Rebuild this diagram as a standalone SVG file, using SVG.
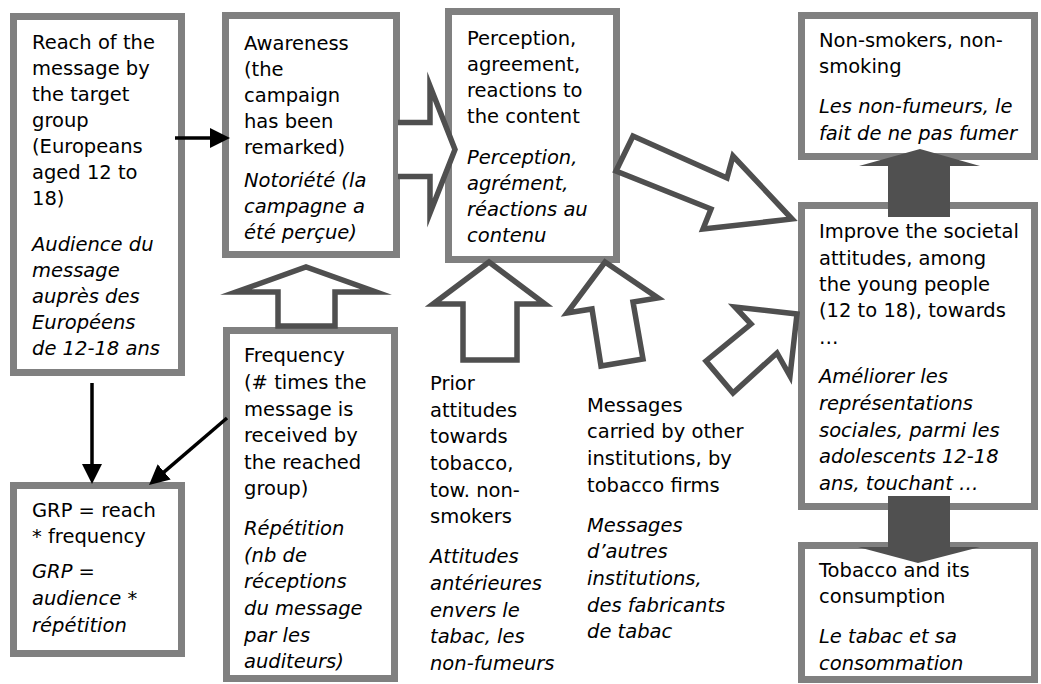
<svg xmlns="http://www.w3.org/2000/svg" width="1041" height="684" viewBox="0 0 1041 684">
<defs>
<style>
.box{fill:#fff;stroke:#808080;stroke-width:7}
.t{font-family:"DejaVu Sans",Verdana,sans-serif;font-size:19.5px;fill:#000}
.i{font-style:italic}
.blk{fill:#fff;stroke:#4f4f4f;stroke-width:5.5;stroke-linejoin:miter;stroke-miterlimit:10}
.sol{fill:#505050}
.con{stroke:#000;stroke-width:3.5;fill:none;marker-end:url(#ah)}
</style>
<marker id="ah" markerUnits="userSpaceOnUse" markerWidth="20" markerHeight="20" viewBox="0 0 20 20" refX="5" refY="10" orient="auto"><path d="M0,0 L20,10 L0,20 Z" fill="#000"/></marker>
</defs>
<rect width="1041" height="684" fill="#fff"/>

<g id="reach">
<rect class="box" x="13.5" y="16.5" width="168" height="356"/>
<text class="t"><tspan x="32" y="49">Reach of the</tspan><tspan x="32" y="75">message by</tspan><tspan x="32" y="101">the target</tspan><tspan x="32" y="127">group</tspan><tspan x="32" y="153">(Europeans</tspan><tspan x="32" y="179">aged 12 to</tspan><tspan x="32" y="205">18)</tspan></text>
<text class="t i"><tspan x="32" y="251">Audience du</tspan><tspan x="32" y="277">message</tspan><tspan x="32" y="303">auprès des</tspan><tspan x="32" y="329">Européens</tspan><tspan x="32" y="355">de 12-18 ans</tspan></text>
</g>

<g id="awareness">
<rect class="box" x="225.5" y="15.5" width="171" height="239"/>
<text class="t"><tspan x="244" y="50">Awareness</tspan><tspan x="244" y="76">(the</tspan><tspan x="244" y="102">campaign</tspan><tspan x="244" y="128">has been</tspan><tspan x="244" y="154">remarked)</tspan></text>
<text class="t i"><tspan x="244" y="187">Notoriété (la</tspan><tspan x="244" y="213">campagne a</tspan><tspan x="244" y="239">été perçue)</tspan></text>
</g>

<g id="perception">
<rect class="box" x="448.5" y="11.5" width="168" height="248"/>
<text class="t"><tspan x="467" y="45">Perception,</tspan><tspan x="467" y="71">agreement,</tspan><tspan x="467" y="97">reactions to</tspan><tspan x="467" y="123">the content</tspan></text>
<text class="t i"><tspan x="467" y="164">Perception,</tspan><tspan x="467" y="190">agrément,</tspan><tspan x="467" y="216">réactions au</tspan><tspan x="467" y="242">contenu</tspan></text>
</g>

<g id="nonsmokers">
<rect class="box" x="801.5" y="15.5" width="233" height="141"/>
<text class="t"><tspan x="819" y="47">Non-smokers, non-</tspan><tspan x="819" y="73">smoking</tspan></text>
<text class="t i"><tspan x="819" y="113">Les non-fumeurs, le</tspan><tspan x="819" y="140">fait de ne pas fumer</tspan></text>
</g>

<g id="improve">
<rect class="box" x="801.5" y="205.5" width="233" height="301"/>
<text class="t"><tspan x="819" y="238">Improve the societal</tspan><tspan x="819" y="265">attitudes, among</tspan><tspan x="819" y="291">the young people</tspan><tspan x="819" y="317">(12 to 18), towards</tspan><tspan x="819" y="344">…</tspan></text>
<text class="t i"><tspan x="819" y="383">Améliorer les</tspan><tspan x="819" y="410">représentations</tspan><tspan x="819" y="437">sociales, parmi les</tspan><tspan x="819" y="463">adolescents 12-18</tspan><tspan x="819" y="490">ans, touchant …</tspan></text>
</g>

<g id="tobacco">
<rect class="box" x="801.5" y="545.5" width="233" height="134"/>
<text class="t"><tspan x="819" y="577">Tobacco and its</tspan><tspan x="819" y="603">consumption</tspan></text>
<text class="t i"><tspan x="819" y="643">Le tabac et sa</tspan><tspan x="819" y="670">consommation</tspan></text>
</g>

<g id="grp">
<rect class="box" x="13.5" y="485.5" width="168" height="168"/>
<text class="t"><tspan x="32" y="517">GRP = reach</tspan><tspan x="32" y="543">* frequency</tspan></text>
<text class="t i"><tspan x="32" y="578">GRP =</tspan><tspan x="32" y="605">audience *</tspan><tspan x="32" y="632">répétition</tspan></text>
</g>

<g id="frequency">
<rect class="box" x="226.5" y="330.5" width="168" height="348"/>
<text class="t"><tspan x="244" y="362">Frequency</tspan><tspan x="244" y="389">(# times the</tspan><tspan x="244" y="416">message is</tspan><tspan x="244" y="442">received by</tspan><tspan x="244" y="469">the reached</tspan><tspan x="244" y="495">group)</tspan></text>
<text class="t i"><tspan x="244" y="535">Répétition</tspan><tspan x="244" y="562">(nb de</tspan><tspan x="244" y="588">réceptions</tspan><tspan x="244" y="615">du message</tspan><tspan x="244" y="642">par les</tspan><tspan x="244" y="668">auditeurs)</tspan></text>
</g>

<g id="prior">
<text class="t"><tspan x="430" y="390">Prior</tspan><tspan x="430" y="417">attitudes</tspan><tspan x="430" y="443">towards</tspan><tspan x="430" y="470">tobacco,</tspan><tspan x="430" y="497">tow. non-</tspan><tspan x="430" y="523">smokers</tspan></text>
<text class="t i"><tspan x="430" y="563">Attitudes</tspan><tspan x="430" y="590">antérieures</tspan><tspan x="430" y="617">envers le</tspan><tspan x="430" y="643">tabac, les</tspan><tspan x="430" y="670">non-fumeurs</tspan></text>
</g>

<g id="messages">
<text class="t"><tspan x="587" y="412">Messages</tspan><tspan x="587" y="438">carried by other</tspan><tspan x="587" y="465">institutions, by</tspan><tspan x="587" y="492">tobacco firms</tspan></text>
<text class="t i"><tspan x="587" y="532">Messages</tspan><tspan x="587" y="558">d’autres</tspan><tspan x="587" y="585">institutions,</tspan><tspan x="587" y="612">des fabricants</tspan><tspan x="587" y="638">de tabac</tspan></text>
</g>

<g id="connectors">
<path class="blk" d="M398,122.5 H430 V86 L455,149.5 L430,213 V176.5 H398"/>
<path class="blk" d="M278,326 V292 H236 L306,267 L376,292 H335 V326 Z"/>
<path class="blk" d="M463,360 V304 H433 L489,262 L545,304 H517 V360 Z"/>
<path class="blk" d="M601,366 L592,309 L567,313 L605,262 L658,298 L633,302 L643,359 Z"/>
<path class="blk" d="M616,171 L633,136 L727,178 L733,156 L792,219 L703,229 L711,209 Z"/>
<path class="blk" d="M733,393 L706,361 L751,324 L735,307 L797,314 L790,376 L777,353 Z"/>
<path class="sol" d="M888,217 V166 H859 L920,149 L980,166 H950 V217 Z"/>
<path class="sol" d="M888,496 H950 V547 H980 L918,563 L858,547 H888 Z"/>
<path class="con" d="M175,138 H215"/>
<path class="con" d="M92,383 V469"/>
<path class="con" d="M227,418 L160.4,475.2"/>
</g>
</svg>
